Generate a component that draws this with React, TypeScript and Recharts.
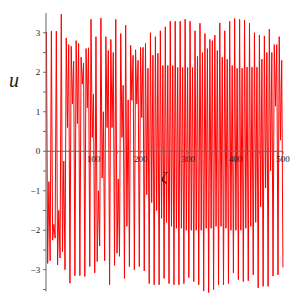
import React from 'react';
import { LineChart, Line, XAxis, YAxis, ReferenceLine } from 'recharts';

// one oscillation period of u(ζ): high peak, first dip, second peak, trough
const PERIOD = 10.45;
const START = 0.9;

const peakHigh = [
  3.02, 3.04, 3.04, 3.47, 2.87, 2.66, 2.8, 2.38, 2.6, 3.34,
  2.9, 3.37, 2.9, 2.83, 3.34, 2.98, 3.19, 2.68, 2.57, 2.63,
  2.73, 3.0, 2.9, 3.05, 3.15, 3.29, 3.29, 3.29, 3.34, 3.29,
  3.05, 3.24, 2.98, 2.83, 2.94, 3.25, 3.05, 3.29, 3.36, 3.34,
  3.32, 3.24, 3.0, 2.94, 2.92, 3.09, 2.7, 2.9,
];
const dipA = [
  -2.84, -2.25, -2.88, -2.54, 0.6, 1.2, 0.7, 1.7, 1.1, 0.35,
  -2.79, -0.68, 0.6, 0.6, -2.58, 0.35, -1.9, 1.29, 1.2, 0.85,
  -1.1, -1.3, -1.5, -1.7, -1.8, -1.9, -1.95, -1.95, -2.0, -2.0,
  -2.0, -2.0, -1.95, -1.95, -1.9, -1.9, -1.95, -2.0, -2.0, -2.0,
  -1.95, -1.9, -1.8, -1.4, -0.93, -0.5, 1.14, 0.28,
];
const peakLow = [
  -0.77, -1.85, -1.5, -0.25, 2.7, 2.28, 2.73, 2.23, 2.62, 1.45,
  -1.0, 1.0, 2.55, 2.5, -0.7, 1.67, 1.3, 2.43, 2.3, 2.63,
  2.1, 2.43, 2.48, 2.17, 2.17, 2.17, 2.12, 2.12, 2.12, 2.12,
  2.4, 2.5, 2.6, 2.8, 2.55, 2.38, 2.33, 2.17, 2.1, 2.1,
  2.13, 2.13, 2.13, 2.33, 2.5, 2.5, 2.7, 2.3,
];
const trough = [
  -2.77, -2.2, -2.7, -3.0, -3.34, -3.15, -3.15, -3.17, -2.92, -3.08,
  -2.4, -2.77, -3.38, -2.89, -2.66, -3.22, -2.92, -3.0, -2.92, -3.03,
  -3.35, -3.38, -3.38, -3.22, -3.35, -3.38, -3.38, -3.35, -3.2, -3.3,
  -3.38, -3.54, -3.58, -3.5, -3.38, -3.38, -3.35, -3.08, -3.25, -3.3,
  -3.28, -3.13, -3.46, -3.42, -3.42, -3.16, -3.13, -2.94,
];

const xTicks = [50, 100, 150, 200, 250, 300, 350, 400, 450, 500];
const yTicks = [-3.5, -3, -2.5, -2, -1.5, -1, -0.5, 0.5, 1, 1.5, 2, 2.5, 3];

const data: { t: number; u: number }[] = [];
peakHigh.forEach((v, k) => {
  const t0 = START + PERIOD * k;
  const step = PERIOD / 4;
  data.push({ t: t0, u: v });
  data.push({ t: t0 + step, u: dipA[k] });
  data.push({ t: t0 + 2 * step, u: peakLow[k] });
  data.push({ t: t0 + 3 * step, u: trough[k] });
});

const AXIS = '#666';
const TXT = '#222';
const SERIF = '"Liberation Serif", "DejaVu Serif", serif';

const fmt = (v: number) => (v < 0 ? `\u2212${-v}` : String(v));

export default function App() {
  return (
    <div style={{ position: 'relative', width: 291, height: 290 }}>
      <LineChart
        width={291}
        height={290}
        data={data}
        margin={{ top: 5, right: 16, bottom: 4.55, left: 38 }}
      >
        <XAxis type="number" dataKey="t" domain={[0, 500]} hide />
        <YAxis type="number" domain={[-3.6, 3.5]} allowDataOverflow hide />
        <Line
          type="linear"
          dataKey="u"
          stroke="#ff0000"
          strokeWidth={1}
          dot={false}
          isAnimationActive={false}
        />
        <ReferenceLine y={0} stroke={AXIS} strokeWidth={1} />
        <ReferenceLine
          segment={[{ x: 0, y: -3.55 }, { x: 0, y: 3.5 }]}
          stroke={AXIS}
          strokeWidth={1}
          ifOverflow="visible"
        />
        {xTicks.map(v => (
          <ReferenceLine
            key={`xt-${v}`}
            segment={[{ x: v, y: 0 }, { x: v, y: -0.07 }]}
            stroke={AXIS}
            ifOverflow="visible"
            label={
              v % 100 === 0
                ? { value: String(v), position: 'bottom', offset: 2, fill: TXT, fontSize: 9, fontFamily: SERIF }
                : undefined
            }
          />
        ))}
        {yTicks.map(v => (
          <ReferenceLine
            key={`yt-${v}`}
            segment={[{ x: -6, y: v }, { x: 0, y: v }]}
            stroke={AXIS}
            ifOverflow="visible"
            label={
              Number.isInteger(v)
                ? { value: fmt(v), position: 'left', offset: 3, fill: TXT, fontSize: 9, fontFamily: SERIF }
                : undefined
            }
          />
        ))}
        <ReferenceLine
          segment={[{ x: -6, y: 0 }, { x: 0, y: 0 }]}
          stroke={AXIS}
          ifOverflow="visible"
          label={{ value: '0', position: 'left', offset: 3, fill: TXT, fontSize: 9, fontFamily: SERIF }}
        />
      </LineChart>
      <div
        style={{
          position: 'absolute', left: 1, top: 60, fontFamily: SERIF, fontStyle: 'italic',
          fontSize: 20, color: TXT, lineHeight: '24px',
        }}
      >
        u
      </div>
      <div
        style={{
          position: 'absolute', left: 153, top: 160, fontFamily: SERIF, fontStyle: 'italic',
          fontSize: 15, color: TXT, lineHeight: '18px',
        }}
      >
        ζ
      </div>
    </div>
  );
}
